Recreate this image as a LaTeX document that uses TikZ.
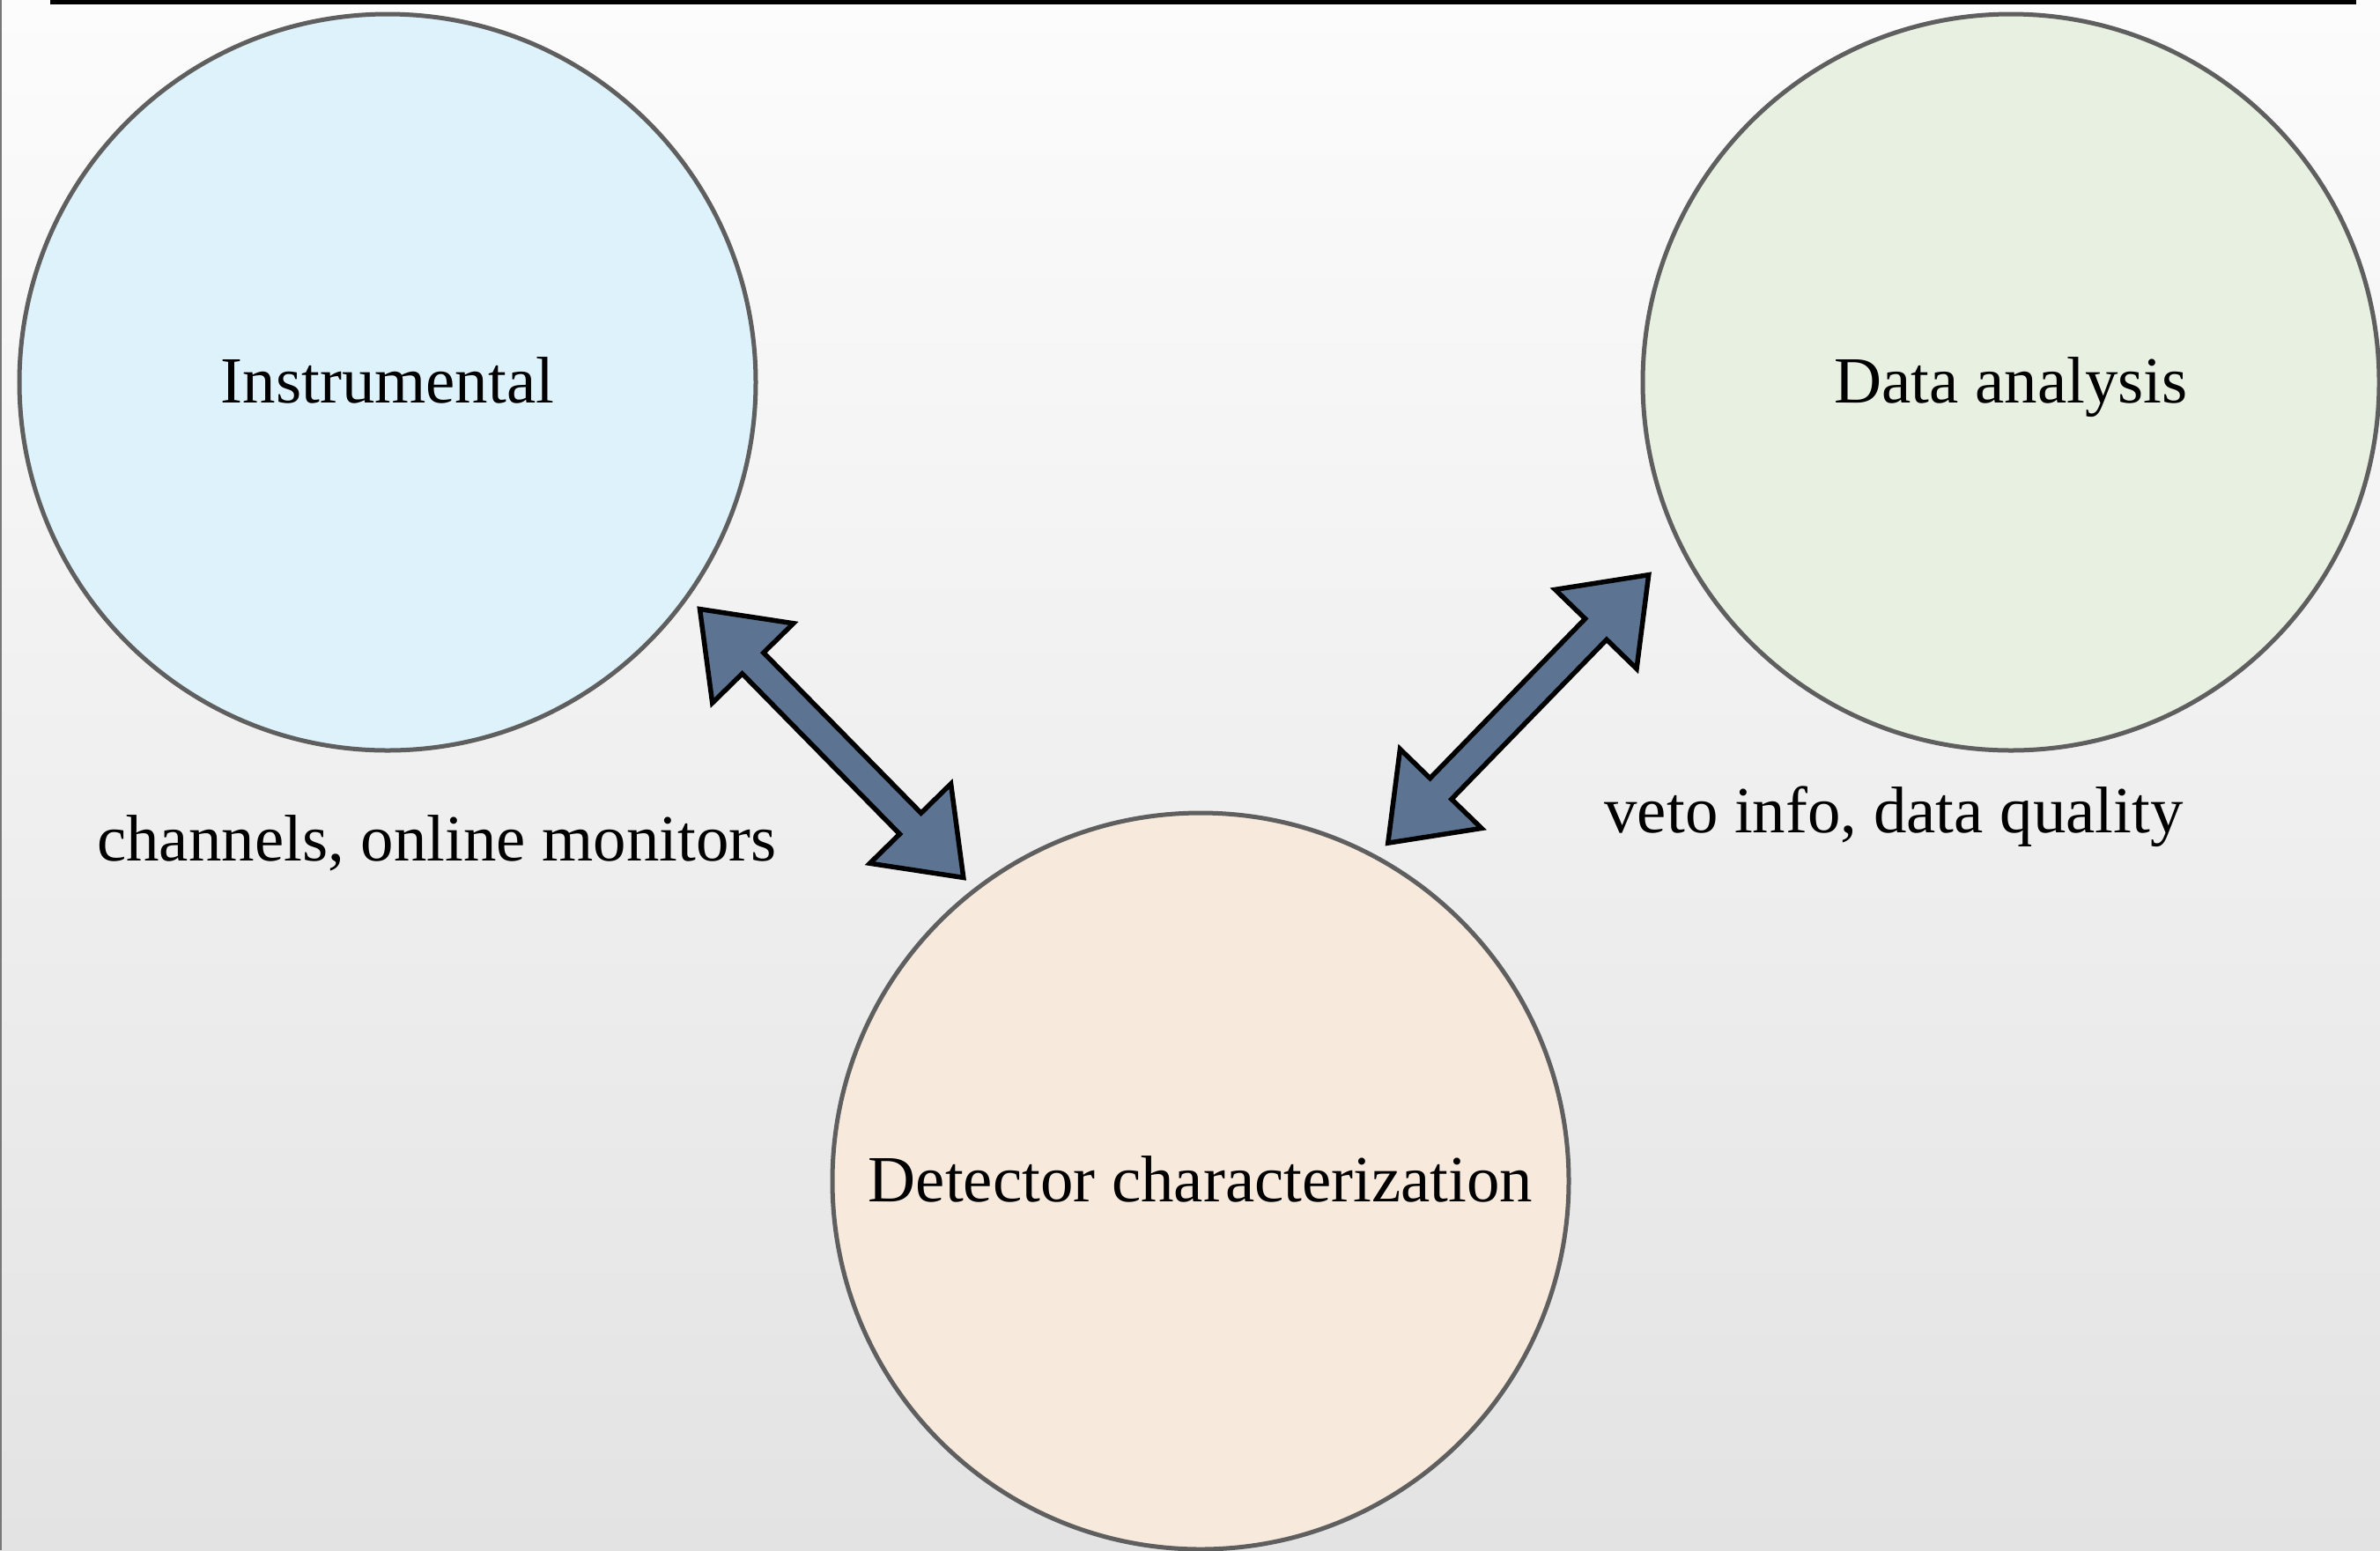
\documentclass[tikz,border=0pt]{standalone}
\usepackage{fontspec}
\setmainfont{Liberation Serif}
\usetikzlibrary{calc}
\definecolor{instfill}{RGB}{221,242,250}
\definecolor{datafill}{RGB}{232,240,225}
\definecolor{detfill}{RGB}{247,234,220}
\definecolor{rimgray}{RGB}{95,95,95}
\definecolor{arrfill}{RGB}{92,116,145}
\tikzset{
  area/.style={draw=rimgray,circle,line width=0.05cm,minimum size=8.36cm,
    inner sep=0pt,text height=13.4pt,text depth=0pt,
    font=\fontsize{21.3}{25}\selectfont},
  lbl/.style={anchor=base,inner sep=0pt,font=\fontsize{21.3}{25}\selectfont},
  fatarr/.style={draw=black,fill=arrfill,line width=0.055cm,line join=miter},
}
% fat double arrow between two named tips
\newcommand\fatarrow[2]{%
  \coordinate (#1h) at ($(#1)!0.86cm!(#2)$);
  \coordinate (#2h) at ($(#2)!0.86cm!(#1)$);
  \draw[fatarr] (#1) -- ($(#1h)!0.645cm!90:(#2)$) -- ($(#1h)!0.17cm!90:(#2)$)
    -- ($(#2h)!0.17cm!-90:(#1)$) -- ($(#2h)!0.645cm!-90:(#1)$) -- (#2)
    -- ($(#2h)!0.645cm!90:(#1)$) -- ($(#2h)!0.17cm!90:(#1)$)
    -- ($(#1h)!0.17cm!-90:(#2)$) -- ($(#1h)!0.645cm!-90:(#2)$) -- cycle;
}
\begin{document}
\begin{tikzpicture}
    %% frame
    \useasboundingbox (0,0) rectangle (27.02,-17.6);
    \shade[top color={rgb,255:red,252;green,252;blue,252},
      bottom color={rgb,255:red,227;green,227;blue,227}] (0,0) rectangle (27.02,-17.6);
    \fill[rimgray!85] (0,0) rectangle (0.025,-17.6);
    \fill[black] (0.57,0) rectangle (26.75,-0.045);
    %% areas
    \node (inst) at (4.40,-4.34) [area,fill=instfill] {Instrumental};
    \node (data) at (22.83,-4.34) [area,fill=datafill] {Data analysis};
    \node (det) at (13.63,-13.41) [area,fill=detfill] {Detector characterization};
    %% labels
    \node (chan) at (4.96,-9.77) [lbl] {channels, online monitors};
    \node (veto) at (21.50,-9.45) [lbl] {veto info, data quality};
    %% arrows
    \coordinate (ia) at ($(inst.center)!4.382cm!(inst.-36.56)$);
    \coordinate (ib) at ($(det.center)!4.373cm!(det.128.13)$);
    \coordinate (da) at ($(data.center)!4.658cm!(data.208.32)$);
    \coordinate (db) at ($(det.center)!4.389cm!(det.61.56)$);
    \fatarrow{ia}{ib}
    \fatarrow{da}{db}
    %
\end{tikzpicture}
\end{document}
